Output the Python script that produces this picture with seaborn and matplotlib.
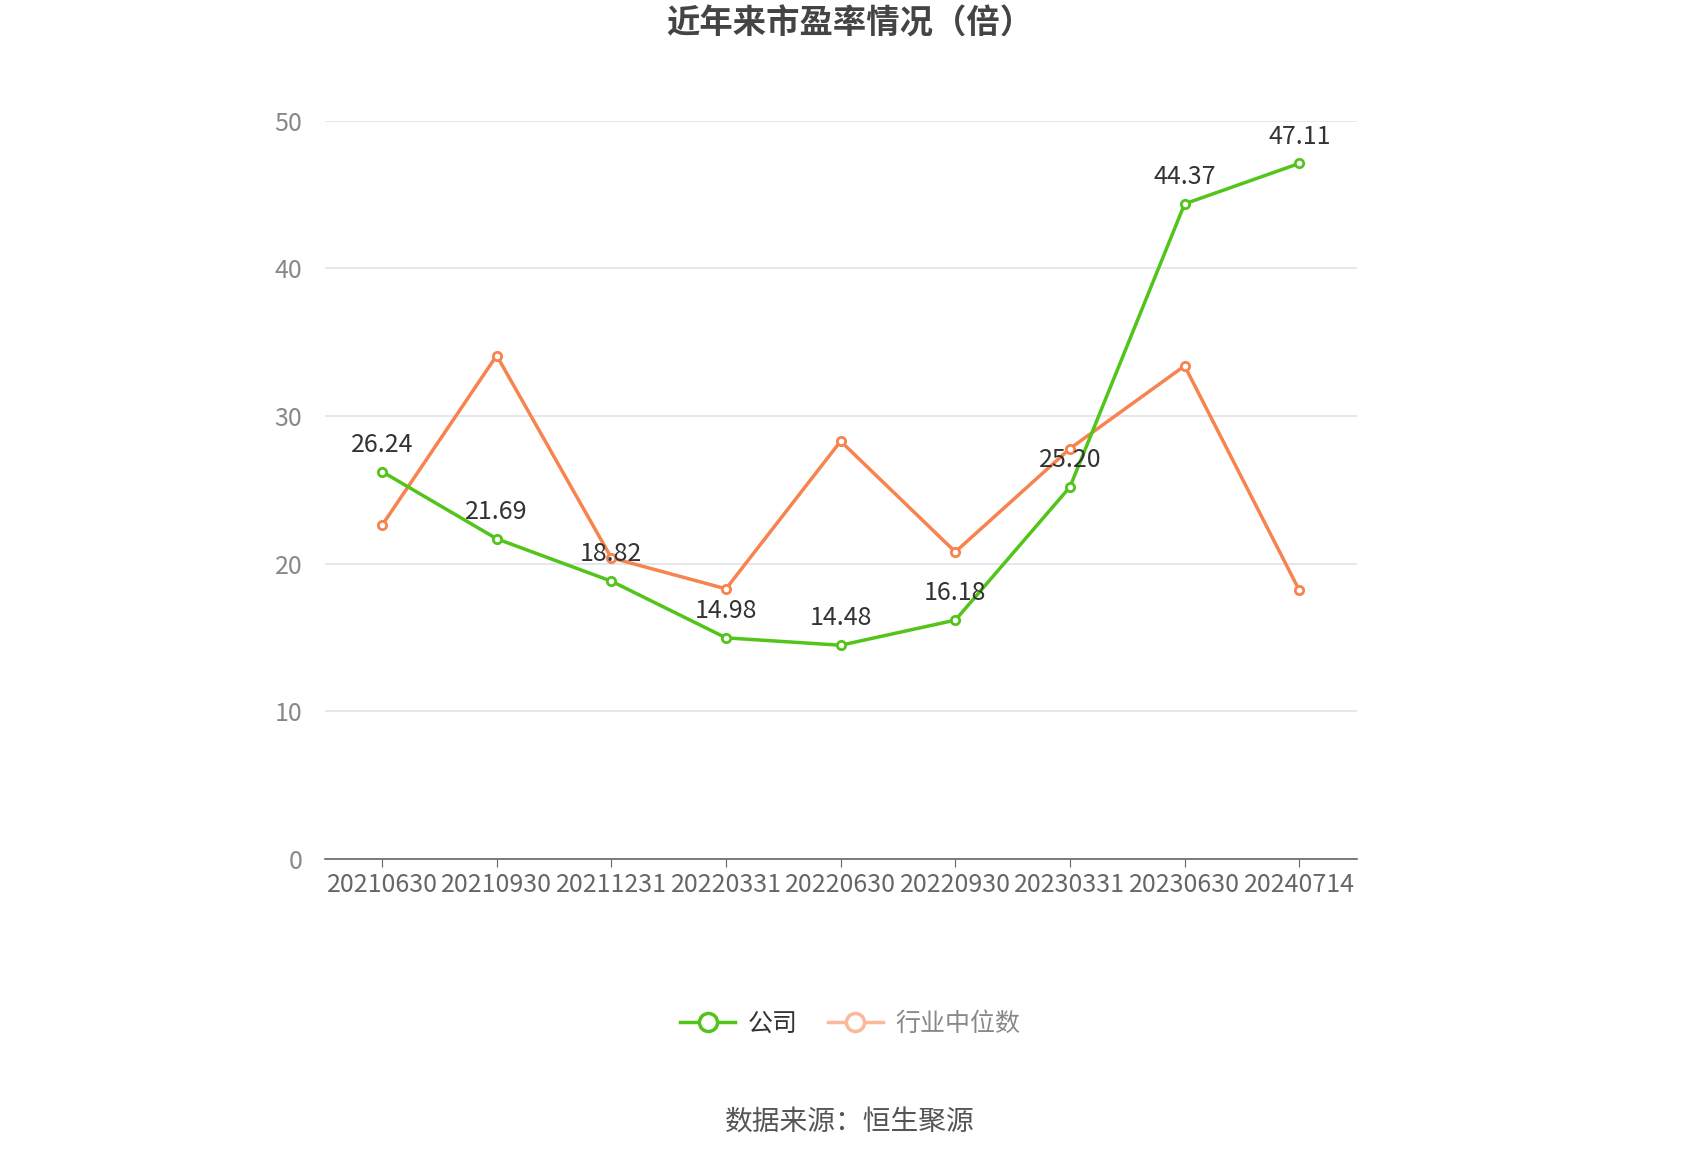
import pandas as pd
import matplotlib.pyplot as plt
import seaborn as sns

plt.rcParams['font.family'] = 'Noto Sans CJK SC'

dates = ["20210630", "20210930", "20211231", "20220331", "20220630",
         "20220930", "20230331", "20230630", "20240714"]
company = [26.24, 21.69, 18.82, 14.98, 14.48, 16.18, 25.20, 44.37, 47.11]
industry = [22.6, 34.1, 20.4, 18.3, 28.3, 20.8, 27.8, 33.4, 18.2]

green = "#52c41a"
orange = "#f7834f"

df = pd.DataFrame({"x": range(len(dates)), "公司": company, "行业中位数": industry})

fig = plt.figure(figsize=(17, 11.5), dpi=100)
ax = fig.add_axes([0.191, 0.253, 0.607, 0.642])

sns.lineplot(data=df, x="x", y="行业中位数", ax=ax, color=orange, linewidth=2.5,
             marker="o", markersize=6, markerfacecolor="white",
             markeredgecolor=orange, markeredgewidth=2)
sns.lineplot(data=df, x="x", y="公司", ax=ax, color=green, linewidth=2.5,
             marker="o", markersize=6, markerfacecolor="white",
             markeredgecolor=green, markeredgewidth=2)

for i, v in enumerate(company):
    ax.annotate(f"{v:.2f}", (i, v), xytext=(0, 10), textcoords="offset points",
                ha="center", va="bottom", fontsize=18, color="#333333")

ax.set_xlim(-0.5, len(dates) - 0.5)
ax.set_ylim(0, 50)
ax.set_yticks(range(0, 51, 10))
ax.set_xticks(range(len(dates)))
ax.set_xticklabels(dates)
ax.tick_params(axis="x", labelsize=18, colors="#666666", length=6, color="#666666")
ax.tick_params(axis="y", labelsize=18, colors="#888888", length=0, pad=16)
ax.set_xlabel("")
ax.set_ylabel("")
ax.grid(True, axis="y", color="#dde3ee", linewidth=1.2)
ax.set_axisbelow(True)
for s in ["top", "right", "left"]:
    ax.spines[s].set_visible(False)
ax.spines["bottom"].set_color("#666666")
ax.spines["bottom"].set_linewidth(1.2)

fig.text(0.5, 0.979, "近年来市盈率情况（倍）", ha="center", va="center",
         fontsize=24, fontweight="bold", color="#444444")

h1 = plt.Line2D([], [], color=green, linewidth=2.5, marker="o", markersize=13,
                markerfacecolor="white", markeredgewidth=2.5)
h2 = plt.Line2D([], [], color="#fbb89b", linewidth=2.5, marker="o", markersize=13,
                markerfacecolor="white", markeredgewidth=2.5)
leg = fig.legend([h1, h2], ["公司", "行业中位数"], loc="center", bbox_to_anchor=(0.5, 0.11),
                 ncol=2, frameon=False, fontsize=18, handlelength=2.2, columnspacing=1.2,
                 handletextpad=0.5)
leg.get_texts()[0].set_color("#333333")
leg.get_texts()[1].set_color("#888888")

fig.text(0.5, 0.024, "数据来源：恒生聚源", ha="center", va="center",
         fontsize=20, color="#555555")

fig.savefig("out.png", dpi=100)
